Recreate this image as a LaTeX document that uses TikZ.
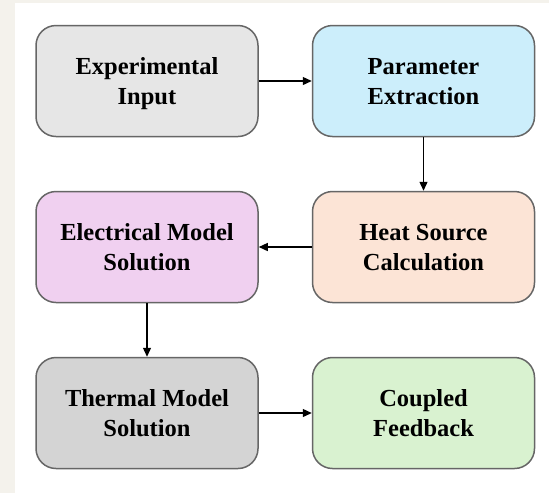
\documentclass[tikz,border=0pt]{standalone}
\usepackage{fontspec}
\setmainfont{Liberation Serif}
\usetikzlibrary{arrows.meta}

\tikzset{
  stepbox/.style={draw=boxline,line width=0.75pt,rounded corners=10pt,
    minimum width=111pt,minimum height=55.5pt,align=center,text depth=-1.5pt,
    font=\bfseries\fontsize{12.25}{15}\selectfont},
  flow/.style={line width=0.65pt,-{Triangle[length=4.5pt,width=4pt]}}
}

\begin{document}
\begin{tikzpicture}[x=0.5pt,y=-0.5pt]
  \definecolor{paper}{HTML}{F4F2EC}
  \definecolor{boxline}{HTML}{666666}
  \definecolor{expgray}{HTML}{E6E6E6}
  \definecolor{parblue}{HTML}{CCEEFB}
  \definecolor{heatpeach}{HTML}{FCE4D6}
  \definecolor{elecpink}{HTML}{F0D0F0}
  \definecolor{thermgray}{HTML}{D4D4D4}
  \definecolor{coupgreen}{HTML}{D9F2D0}

  % page and white sheet
  \fill[paper] (0,0) rectangle (549,493);
  \fill[white] (15,3) rectangle (549,493);

  \foreach \nm/\cx/\cy/\col/\txt in {
    exp/147/81/expgray/Experimental\\Input,
    par/423.5/81/parblue/Parameter\\Extraction,
    heat/423.5/247/heatpeach/Heat Source\\Calculation,
    elec/147/247/elecpink/Electrical Model\\Solution,
    therm/147/413/thermgray/Thermal Model\\Solution,
    coup/423.5/413/coupgreen/Coupled\\Feedback}
  {
    \node[stepbox,fill=\col] (\nm) at (\cx,\cy) {\txt};
  }

  \draw[flow] (exp) -- (par);
  \draw[flow] (par) -- (heat);
  \draw[flow] (heat) -- (elec);
  \draw[flow] (elec) -- (therm);
  \draw[flow] (therm) -- (coup);
\end{tikzpicture}
\end{document}
